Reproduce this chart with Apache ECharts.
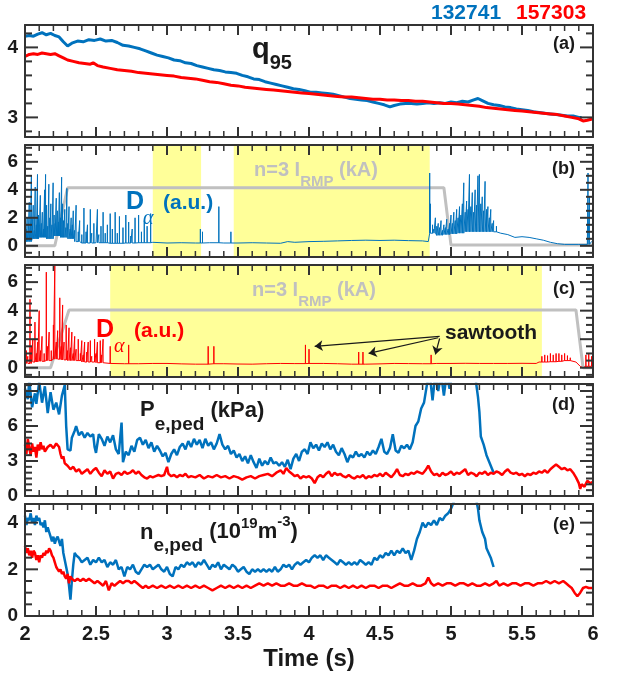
<!DOCTYPE html>
<html><head><meta charset="utf-8">
<script src="https://cdn.jsdelivr.net/npm/echarts@6/dist/echarts.min.js"></script>
<style>html,body{margin:0;padding:0;background:#fff}.layer{position:absolute;left:0;top:0;width:617px;height:677px}</style>
</head><body><div id="data" class="layer"></div><div id="frame" class="layer"></div>
<script>
// ---------------- DATA ----------------
const timeTicks = [2, 2.5, 3, 3.5, 4, 4.5, 5, 5.5, 6];
const timeMinorTicks = [2.1, 2.2, 2.3, 2.4, 2.6, 2.7, 2.8, 2.9, 3.1, 3.2, 3.3, 3.4, 3.6, 3.7, 3.8, 3.9, 4.1, 4.2, 4.3, 4.4, 4.6, 4.7, 4.8, 4.9, 5.1, 5.2, 5.3, 5.4, 5.6, 5.7, 5.8, 5.9];
const yMajorTicks = [[3, 4], [0, 2, 4, 6], [0, 2, 4, 6], [0, 3, 6, 9], [0, 2, 4]];
const yMinorTicks = [
  [2.8, 3.2, 3.4, 3.6, 3.8, 4.2],
  [-0.5, 0.5, 1, 1.5, 2.5, 3, 3.5, 4.5, 5, 5.5, 6.5, 7],
  [-0.5, 0.5, 1, 1.5, 2.5, 3, 3.5, 4.5, 5, 5.5, 6.5, 7],
  [0.5, 1, 1.5, 2, 2.5, 3.5, 4, 4.5, 5, 5.5, 6.5, 7, 7.5, 8, 8.5, 9.5],
  [0.5, 1, 1.5, 2.5, 3, 3.5, 4.5]
];
const yRanges = [[2.72, 4.32], [-0.8, 7.2], [-0.65, 7.2], [0, 9.6], [0, 4.8]];

const q95Blue = [[2.0,4.16],[2.03,4.17],[2.06,4.16],[2.09,4.19],[2.12,4.21],[2.15,4.18],[2.18,4.2],[2.21,4.17],[2.24,4.15],[2.27,4.08],[2.30,4.02],[2.33,4.06],[2.37,4.09],[2.41,4.08],[2.45,4.11],[2.49,4.1],[2.53,4.12],[2.57,4.09],[2.61,4.1],[2.65,4.07],[2.69,4.03],[2.73,4.02],[2.77,4.0],[2.81,3.98],[2.85,3.95],[2.89,3.92],[2.93,3.89],[2.97,3.87],[3.01,3.85],[3.05,3.82],[3.09,3.81],[3.13,3.78],[3.17,3.77],[3.21,3.74],[3.25,3.72],[3.29,3.7],[3.33,3.68],[3.37,3.67],[3.41,3.65],[3.45,3.64],[3.49,3.63],[3.53,3.6],[3.57,3.58],[3.61,3.55],[3.65,3.54],[3.69,3.51],[3.73,3.49],[3.77,3.47],[3.81,3.45],[3.85,3.43],[3.89,3.41],[3.93,3.4],[3.97,3.38],[4.01,3.36],[4.05,3.36],[4.09,3.35],[4.13,3.34],[4.17,3.33],[4.21,3.31],[4.25,3.29],[4.29,3.27],[4.33,3.26],[4.37,3.25],[4.41,3.24],[4.45,3.22],[4.49,3.2],[4.53,3.18],[4.57,3.15],[4.60,3.17],[4.64,3.19],[4.68,3.2],[4.72,3.2],[4.76,3.19],[4.80,3.2],[4.84,3.21],[4.88,3.2],[4.92,3.21],[4.96,3.2],[5.00,3.22],[5.04,3.21],[5.08,3.23],[5.12,3.22],[5.16,3.25],[5.19,3.27],[5.22,3.24],[5.26,3.2],[5.30,3.18],[5.34,3.17],[5.38,3.15],[5.42,3.14],[5.46,3.12],[5.50,3.11],[5.54,3.1],[5.58,3.08],[5.62,3.07],[5.66,3.06],[5.70,3.05],[5.74,3.04],[5.78,3.03],[5.82,3.02],[5.86,3.02],[5.90,3.0],[5.92,3.0]];
const q95Red = [[2.0,3.87],[2.03,3.9],[2.06,3.91],[2.09,3.9],[2.12,3.92],[2.15,3.91],[2.18,3.9],[2.21,3.91],[2.24,3.88],[2.27,3.85],[2.30,3.82],[2.34,3.8],[2.38,3.78],[2.42,3.77],[2.46,3.76],[2.48,3.78],[2.51,3.74],[2.55,3.72],[2.60,3.7],[2.65,3.68],[2.70,3.67],[2.75,3.66],[2.80,3.64],[2.85,3.63],[2.90,3.62],[2.95,3.61],[3.0,3.6],[3.05,3.59],[3.10,3.57],[3.15,3.56],[3.20,3.55],[3.25,3.53],[3.30,3.51],[3.35,3.5],[3.40,3.48],[3.45,3.46],[3.50,3.45],[3.55,3.43],[3.60,3.42],[3.65,3.41],[3.70,3.4],[3.75,3.39],[3.80,3.38],[3.85,3.37],[3.90,3.36],[3.95,3.35],[4.00,3.34],[4.05,3.33],[4.10,3.32],[4.15,3.31],[4.20,3.3],[4.25,3.29],[4.30,3.29],[4.35,3.28],[4.40,3.27],[4.45,3.26],[4.50,3.26],[4.55,3.25],[4.60,3.25],[4.65,3.24],[4.70,3.24],[4.75,3.23],[4.80,3.23],[4.85,3.22],[4.90,3.21],[4.95,3.2],[5.00,3.2],[5.05,3.19],[5.10,3.18],[5.15,3.17],[5.20,3.16],[5.25,3.14],[5.30,3.13],[5.35,3.12],[5.40,3.11],[5.45,3.1],[5.50,3.09],[5.55,3.08],[5.60,3.07],[5.65,3.06],[5.70,3.05],[5.75,3.04],[5.80,3.02],[5.85,3.0],[5.90,2.98],[5.93,2.95],[5.96,2.96],[6.0,2.98]];

const irmpB = [[2.0,0.0],[2.21,0.0],[2.3,4.15],[4.95,4.15],[5.0,0.05],[6.0,0.05]];
const irmpC = [[2.0,0.0],[2.18,0.0],[2.31,4.05],[5.88,4.05],[5.93,0.0],[6.0,0.0]];
const rmpWindowsB = [[2.9,3.24],[3.47,4.85]];
const rmpWindowsC = [[2.6,5.64]];

const dalphaBBase = [[2.0,0.3],[2.05,0.5],[2.1,0.6],[2.15,0.5],[2.2,0.7],[2.25,0.6],[2.3,0.5],[2.35,0.3],[2.4,0.2],[2.5,0.22],[2.6,0.18],[2.7,0.2],[2.8,0.22],[2.9,0.25],[3.0,0.2],[3.1,0.22],[3.2,0.2],[3.3,0.22],[3.4,0.2],[3.5,0.2],[3.6,0.22],[3.7,0.2],[3.8,0.18],[3.85,0.3],[3.9,0.25],[4.0,0.3],[4.1,0.32],[4.2,0.35],[4.3,0.38],[4.4,0.4],[4.5,0.38],[4.6,0.4],[4.7,0.37],[4.8,0.35],[4.84,0.3],[4.85,0.9],[4.9,0.75],[4.95,0.8],[5.0,0.85],[5.05,0.9],[5.1,1.0],[5.2,1.0],[5.3,1.0],[5.35,0.9],[5.4,0.8],[5.45,0.6],[5.5,0.65],[5.55,0.6],[5.6,0.5],[5.65,0.4],[5.7,0.25],[5.75,0.15],[5.8,0.1],[5.9,0.1],[5.96,0.1],[5.99,0.3],[6.0,0.2]];
const dalphaBSpikes = [[2.003,4.3],[2.01,1.2],[2.015,2.0],[2.022,1.0],[2.03,3.1],[2.037,1.4],[2.045,5.0],[2.05,1.9],[2.058,2.9],[2.065,1.1],[2.072,4.2],[2.08,1.5],[2.088,5.1],[2.095,2.2],[2.1,1.3],[2.108,3.6],[2.115,1.6],[2.122,2.4],[2.13,1.2],[2.138,4.0],[2.145,5.1],[2.152,2.9],[2.16,1.4],[2.168,4.4],[2.175,2.0],[2.182,3.0],[2.19,1.5],[2.198,4.5],[2.205,2.2],[2.212,1.6],[2.22,3.4],[2.228,2.5],[2.235,1.7],[2.242,3.8],[2.25,2.0],[2.258,4.9],[2.265,3.0],[2.272,1.8],[2.28,2.6],[2.288,1.3],[2.295,4.1],[2.302,1.6],[2.31,2.8],[2.318,1.2],[2.325,2.0],[2.333,1.5],[2.34,2.5],[2.348,1.1],[2.36,2.9],[2.375,1.0],[2.385,1.8],[2.40,0.8],[2.415,2.7],[2.43,1.0],[2.44,1.5],[2.46,2.6],[2.47,0.9],[2.485,1.6],[2.51,2.6],[2.52,0.8],[2.535,1.4],[2.55,2.4],[2.565,0.9],[2.58,1.5],[2.60,2.3],[2.615,1.2],[2.635,2.4],[2.65,0.9],[2.665,2.1],[2.69,1.3],[2.71,2.2],[2.73,1.7],[2.745,0.7],[2.755,1.2],[2.775,2.0],[2.80,2.2],[2.82,1.0],[2.84,1.8],[2.86,1.4],[2.885,2.3],[3.235,1.2],[3.25,1.0],[3.365,2.8],[3.45,1.0],[4.85,5.2],[4.855,3.0],[4.87,1.5],[4.88,1.2],[4.89,2.0],[4.9,1.4],[4.91,1.6],[4.92,1.3],[4.93,1.8],[4.94,1.1],[4.95,1.5],[4.96,1.3],[4.97,1.9],[4.98,1.2],[4.99,1.6],[5.0,2.2],[5.01,1.6],[5.02,2.4],[5.03,1.8],[5.04,2.6],[5.05,2.0],[5.06,2.8],[5.07,2.2],[5.08,3.0],[5.09,4.5],[5.1,2.4],[5.11,3.2],[5.12,2.6],[5.13,5.1],[5.14,2.8],[5.15,3.8],[5.16,2.4],[5.17,4.0],[5.18,2.9],[5.19,5.0],[5.2,5.1],[5.21,3.0],[5.22,3.5],[5.23,2.5],[5.24,4.6],[5.25,2.6],[5.26,2.8],[5.27,2.0],[5.28,2.6],[5.29,1.6],[5.30,1.8],[5.32,1.4],[5.965,5.2],[5.975,3.5]];

const dalphaCBase = [[2.0,0.3],[2.05,0.4],[2.1,0.45],[2.15,0.5],[2.2,0.6],[2.25,0.55],[2.3,0.5],[2.4,0.4],[2.5,0.35],[2.6,0.3],[2.7,0.28],[2.8,0.28],[2.9,0.3],[3.0,0.3],[3.1,0.27],[3.2,0.25],[3.3,0.28],[3.4,0.28],[3.5,0.26],[3.6,0.25],[3.7,0.28],[3.8,0.3],[3.9,0.29],[4.0,0.3],[4.1,0.3],[4.2,0.28],[4.3,0.25],[4.4,0.25],[4.5,0.27],[4.6,0.3],[4.7,0.29],[4.8,0.28],[4.9,0.3],[5.0,0.3],[5.1,0.31],[5.2,0.3],[5.3,0.3],[5.4,0.3],[5.5,0.31],[5.6,0.3],[5.62,0.4],[5.7,0.42],[5.75,0.45],[5.8,0.5],[5.85,0.55],[5.88,0.4],[5.91,0.1],[5.93,0.0],[5.95,0.1],[6.0,0.2]];
const dalphaCSpikes = [[2.01,1.2],[2.02,0.8],[2.035,4.8],[2.045,1.5],[2.055,2.0],[2.07,3.2],[2.08,1.0],[2.09,1.8],[2.10,4.0],[2.11,1.2],[2.12,2.2],[2.135,1.0],[2.15,6.7],[2.16,1.5],[2.17,2.5],[2.185,1.2],[2.2,3.0],[2.21,7.3],[2.22,1.8],[2.23,2.6],[2.245,4.9],[2.255,1.5],[2.265,4.4],[2.275,1.8],[2.29,3.0],[2.30,1.2],[2.31,2.8],[2.32,1.4],[2.33,2.5],[2.34,1.0],[2.35,2.2],[2.36,1.3],[2.375,2.0],[2.39,1.0],[2.40,1.9],[2.41,0.9],[2.42,1.8],[2.435,1.1],[2.445,1.8],[2.46,1.9],[2.47,0.8],[2.49,2.0],[2.50,1.0],[2.51,1.8],[2.53,1.9],[2.54,0.9],[2.55,2.0],[2.6,1.5],[2.73,1.6],[3.29,1.5],[3.33,1.5],[3.975,1.6],[4.0,1.3],[4.35,1.1],[4.38,1.1],[4.86,0.9],[5.64,0.8],[5.66,0.9],[5.68,0.85],[5.70,1.0],[5.72,0.9],[5.74,1.0],[5.76,1.0],[5.78,0.9],[5.80,1.0],[5.82,0.85],[5.84,0.7],[5.95,0.9],[5.97,1.0],[5.99,0.8]];
const sawtoothArrows = [[[4.92,2.2],[4.04,1.5]],[[4.91,2.1],[4.42,1.0]],[[4.92,2.05],[4.89,0.93]]];

const pedBlue = [[2.00,9.2],[2.02,8.3],[2.03,9.9],[2.05,7.6],[2.07,8.8],[2.08,7.9],[2.10,9.8],[2.12,8.0],[2.14,9.4],[2.16,7.1],[2.18,8.9],[2.20,7.4],[2.22,8.0],[2.24,7.0],[2.26,8.6],[2.28,9.5],[2.29,6.0],[2.30,4.0],[2.32,3.9],[2.33,5.0],[2.35,5.6],[2.36,6.0],[2.38,5.2],[2.40,5.5],[2.42,5.0],[2.44,5.4],[2.46,5.1],[2.48,5.3],[2.49,4.2],[2.50,3.7],[2.52,5.3],[2.54,4.9],[2.56,4.3],[2.58,5.1],[2.60,4.6],[2.62,5.2],[2.64,4.0],[2.66,3.6],[2.68,6.3],[2.69,2.9],[2.71,3.8],[2.73,3.5],[2.75,4.3],[2.77,3.8],[2.79,4.8],[2.81,5.0],[2.83,4.4],[2.85,4.8],[2.87,4.1],[2.89,4.6],[2.91,3.8],[2.93,4.3],[2.95,3.9],[2.97,3.4],[2.99,3.7],[3.01,2.9],[3.03,3.6],[3.05,4.0],[3.07,3.5],[3.09,4.2],[3.11,4.5],[3.13,4.0],[3.15,4.7],[3.17,4.2],[3.19,4.9],[3.21,4.4],[3.23,4.8],[3.25,4.1],[3.27,4.9],[3.29,4.3],[3.31,4.6],[3.33,4.0],[3.35,4.5],[3.37,5.3],[3.39,4.4],[3.41,4.0],[3.43,4.3],[3.45,3.6],[3.47,3.9],[3.49,3.3],[3.51,3.6],[3.53,3.0],[3.55,3.4],[3.57,2.8],[3.59,3.5],[3.61,2.9],[3.63,2.4],[3.65,3.2],[3.67,2.6],[3.69,3.0],[3.71,2.7],[3.73,3.3],[3.75,2.8],[3.77,2.9],[3.79,2.6],[3.81,2.9],[3.83,2.5],[3.85,3.1],[3.87,2.3],[3.89,3.2],[3.91,3.6],[3.93,3.0],[3.95,3.8],[3.97,4.0],[3.99,3.6],[4.01,4.6],[4.03,4.1],[4.05,4.4],[4.07,3.9],[4.09,4.5],[4.11,4.2],[4.13,4.6],[4.15,4.0],[4.17,4.4],[4.19,3.8],[4.21,3.5],[4.23,4.1],[4.25,3.6],[4.27,2.9],[4.29,3.5],[4.31,3.3],[4.33,3.8],[4.35,3.4],[4.37,3.6],[4.39,3.3],[4.41,3.8],[4.43,3.5],[4.45,3.9],[4.47,3.6],[4.49,4.2],[4.51,4.9],[4.53,3.8],[4.55,3.6],[4.57,4.1],[4.59,5.3],[4.61,3.9],[4.63,3.7],[4.65,4.3],[4.67,4.1],[4.69,4.4],[4.71,4.0],[4.73,4.6],[4.75,6.0],[4.77,6.4],[4.79,7.5],[4.81,8.0],[4.83,9.5],[4.85,10.5],[4.87,8.2],[4.89,10.5],[4.91,9.0],[4.93,10.5],[4.95,8.6],[4.97,10.5],[4.99,9.2],[5.01,10.5],[5.05,10.5],[5.10,10.5],[5.15,10.5],[5.17,10.5],[5.18,9.4],[5.19,8.5],[5.20,7.2],[5.21,5.1],[5.23,4.4],[5.25,3.5],[5.27,2.9],[5.29,2.3],[5.30,2.0]];
const pedRed = [[2.00,4.4],[2.01,3.6],[2.02,4.9],[2.03,4.1],[2.04,3.5],[2.05,4.5],[2.06,3.8],[2.07,4.2],[2.08,3.3],[2.09,4.4],[2.10,3.9],[2.11,4.6],[2.12,4.0],[2.13,4.3],[2.14,3.8],[2.16,4.2],[2.18,4.4],[2.20,4.1],[2.22,4.5],[2.24,4.2],[2.25,3.6],[2.26,3.2],[2.27,3.4],[2.28,2.8],[2.30,2.6],[2.32,2.3],[2.34,2.5],[2.36,2.1],[2.38,2.3],[2.40,1.9],[2.42,2.1],[2.44,2.3],[2.46,1.9],[2.48,2.2],[2.50,2.4],[2.52,2.0],[2.54,1.7],[2.56,2.2],[2.58,1.9],[2.60,2.1],[2.62,1.5],[2.64,1.9],[2.66,2.0],[2.68,1.8],[2.70,2.1],[2.72,1.9],[2.74,2.0],[2.76,2.2],[2.78,1.9],[2.80,2.1],[2.82,1.8],[2.84,1.6],[2.86,1.5],[2.88,1.7],[2.90,1.6],[2.92,1.7],[2.94,1.8],[2.96,1.7],[2.98,1.8],[3.00,2.5],[3.01,1.9],[3.03,1.7],[3.05,1.8],[3.07,1.6],[3.09,1.8],[3.11,1.7],[3.13,1.9],[3.15,1.6],[3.17,1.7],[3.20,1.6],[3.23,1.8],[3.26,1.5],[3.29,1.7],[3.32,1.6],[3.35,1.8],[3.38,1.6],[3.41,1.7],[3.44,1.5],[3.47,1.7],[3.50,1.6],[3.53,1.4],[3.56,1.6],[3.59,1.7],[3.62,1.5],[3.65,1.7],[3.68,1.8],[3.71,1.9],[3.74,1.7],[3.77,2.0],[3.80,2.2],[3.82,1.9],[3.84,2.4],[3.86,2.1],[3.88,1.9],[3.90,1.7],[3.92,1.8],[3.94,1.5],[3.96,1.7],[3.98,1.6],[4.00,1.7],[4.02,1.5],[4.04,1.1],[4.06,1.6],[4.08,1.8],[4.10,1.6],[4.12,1.9],[4.14,2.1],[4.16,1.7],[4.18,2.0],[4.20,1.8],[4.22,1.9],[4.24,1.7],[4.26,1.6],[4.28,1.8],[4.30,1.6],[4.32,1.5],[4.34,1.7],[4.36,1.6],[4.38,1.8],[4.40,1.5],[4.42,1.7],[4.44,1.6],[4.46,1.8],[4.48,1.7],[4.50,1.9],[4.52,1.7],[4.54,2.0],[4.56,1.8],[4.58,1.6],[4.60,1.9],[4.62,2.3],[4.64,1.8],[4.66,1.7],[4.68,1.9],[4.70,1.8],[4.72,2.0],[4.74,1.9],[4.76,2.1],[4.78,2.0],[4.80,1.9],[4.82,2.2],[4.84,2.6],[4.86,2.1],[4.88,1.8],[4.90,1.9],[4.92,1.7],[4.94,2.0],[4.96,1.8],[4.98,1.9],[5.00,2.1],[5.02,1.8],[5.04,2.0],[5.06,1.9],[5.08,2.1],[5.10,2.3],[5.12,1.8],[5.14,2.0],[5.16,1.9],[5.18,1.7],[5.20,2.0],[5.22,1.9],[5.24,2.1],[5.26,1.8],[5.28,2.0],[5.30,1.9],[5.32,2.1],[5.34,2.0],[5.36,1.8],[5.38,2.1],[5.40,2.3],[5.42,2.0],[5.44,1.9],[5.46,2.0],[5.48,1.8],[5.50,1.9],[5.52,1.7],[5.54,1.9],[5.56,1.8],[5.58,2.0],[5.60,1.9],[5.62,2.1],[5.64,2.0],[5.66,2.2],[5.68,2.0],[5.70,2.3],[5.72,2.5],[5.74,2.7],[5.76,2.5],[5.78,2.3],[5.80,2.4],[5.82,2.2],[5.84,2.3],[5.86,2.0],[5.88,1.6],[5.90,1.1],[5.91,0.6],[5.92,1.0],[5.94,0.8],[5.96,1.3],[5.98,1.1],[6.00,1.2]];

const neBlue = [[2.00,4.3],[2.01,3.9],[2.02,4.2],[2.03,4.1],[2.04,4.4],[2.05,4.0],[2.06,4.2],[2.07,3.9],[2.08,4.3],[2.09,4.1],[2.10,4.2],[2.11,3.9],[2.12,4.0],[2.13,3.8],[2.14,4.1],[2.15,3.6],[2.16,3.8],[2.17,3.6],[2.18,3.4],[2.19,3.2],[2.20,3.4],[2.21,3.1],[2.22,3.3],[2.23,3.4],[2.24,3.2],[2.25,3.0],[2.26,3.3],[2.27,2.7],[2.28,2.4],[2.29,2.1],[2.30,1.8],[2.31,1.3],[2.32,0.7],[2.33,1.5],[2.34,2.2],[2.35,2.7],[2.36,2.6],[2.38,2.5],[2.40,2.3],[2.42,2.4],[2.44,2.5],[2.46,2.2],[2.48,2.4],[2.50,2.3],[2.52,2.5],[2.54,2.3],[2.56,2.4],[2.58,2.1],[2.60,2.3],[2.62,2.2],[2.64,2.4],[2.66,2.0],[2.68,2.1],[2.70,1.7],[2.72,2.1],[2.74,2.0],[2.76,2.2],[2.78,1.9],[2.80,1.8],[2.82,2.0],[2.84,2.2],[2.86,2.1],[2.88,2.2],[2.90,2.0],[2.92,2.1],[2.94,2.2],[2.96,2.0],[2.98,1.9],[3.00,2.1],[3.02,1.8],[3.04,1.7],[3.06,2.1],[3.08,2.0],[3.10,2.2],[3.12,2.1],[3.14,2.3],[3.16,2.2],[3.18,2.3],[3.20,2.1],[3.22,2.3],[3.24,2.2],[3.26,2.4],[3.28,2.2],[3.30,2.0],[3.32,2.2],[3.34,2.1],[3.36,2.3],[3.38,2.0],[3.40,2.2],[3.42,2.1],[3.44,2.0],[3.46,2.2],[3.48,2.1],[3.50,1.9],[3.52,2.0],[3.54,2.1],[3.56,1.9],[3.58,1.8],[3.60,2.0],[3.62,1.9],[3.64,2.0],[3.66,1.9],[3.68,2.0],[3.70,1.9],[3.72,2.0],[3.74,1.9],[3.76,2.1],[3.78,1.9],[3.80,2.0],[3.82,2.2],[3.84,2.1],[3.86,2.2],[3.88,2.0],[3.90,2.2],[3.92,2.3],[3.94,2.2],[3.96,2.3],[3.98,2.4],[4.00,2.3],[4.02,2.5],[4.04,2.6],[4.06,2.5],[4.08,2.6],[4.10,2.4],[4.12,2.6],[4.14,2.5],[4.16,2.4],[4.18,2.3],[4.20,2.2],[4.22,2.4],[4.24,2.3],[4.26,2.2],[4.28,2.3],[4.30,2.2],[4.32,2.3],[4.34,2.2],[4.36,2.4],[4.38,2.3],[4.40,2.2],[4.42,2.3],[4.44,2.2],[4.46,2.5],[4.48,2.4],[4.50,2.6],[4.52,2.5],[4.54,2.7],[4.56,2.6],[4.58,2.8],[4.60,2.6],[4.62,2.8],[4.64,2.7],[4.66,2.9],[4.68,2.7],[4.70,2.8],[4.72,2.4],[4.74,2.8],[4.76,3.3],[4.78,3.6],[4.80,4.0],[4.82,3.8],[4.84,4.0],[4.86,3.9],[4.88,4.1],[4.90,3.9],[4.92,4.2],[4.94,4.1],[4.96,4.3],[4.98,4.4],[5.00,4.6],[5.02,4.9],[5.04,5.1],[5.06,5.3],[5.08,5.4],[5.10,5.5],[5.12,5.4],[5.14,5.3],[5.16,5.1],[5.18,4.9],[5.19,4.6],[5.20,4.1],[5.22,3.6],[5.24,3.3],[5.25,2.9],[5.26,2.9],[5.28,2.5],[5.29,2.3],[5.30,2.1]];
const neRed = [[2.00,3.0],[2.01,2.7],[2.02,2.9],[2.03,2.6],[2.04,2.8],[2.05,2.5],[2.06,2.8],[2.07,2.7],[2.08,2.4],[2.09,2.6],[2.10,2.3],[2.11,2.6],[2.12,2.5],[2.13,2.7],[2.14,2.6],[2.15,2.8],[2.16,2.7],[2.17,2.9],[2.18,2.8],[2.19,2.6],[2.20,2.5],[2.21,2.3],[2.22,2.1],[2.23,2.0],[2.24,1.9],[2.25,2.0],[2.26,1.8],[2.27,1.9],[2.28,1.7],[2.29,1.6],[2.30,1.8],[2.31,1.4],[2.32,1.7],[2.33,1.6],[2.35,1.5],[2.37,1.6],[2.39,1.5],[2.41,1.6],[2.43,1.5],[2.45,1.6],[2.47,1.5],[2.49,1.4],[2.51,1.5],[2.53,1.4],[2.55,1.3],[2.57,1.5],[2.59,1.1],[2.61,1.4],[2.63,1.3],[2.65,1.4],[2.67,1.5],[2.69,1.4],[2.71,1.5],[2.73,1.5],[2.75,1.4],[2.77,1.5],[2.79,1.4],[2.81,1.3],[2.83,1.2],[2.85,1.3],[2.87,1.2],[2.90,1.3],[2.93,1.2],[2.96,1.3],[2.99,1.2],[3.02,1.3],[3.05,1.2],[3.08,1.3],[3.11,1.2],[3.14,1.3],[3.17,1.2],[3.20,1.3],[3.23,1.2],[3.26,1.3],[3.29,1.2],[3.32,1.1],[3.35,1.2],[3.38,1.3],[3.41,1.2],[3.44,1.3],[3.47,1.2],[3.50,1.3],[3.53,1.2],[3.56,1.3],[3.59,1.2],[3.62,1.3],[3.65,1.4],[3.68,1.3],[3.71,1.4],[3.74,1.3],[3.77,1.4],[3.80,1.3],[3.83,1.3],[3.86,1.4],[3.89,1.3],[3.92,1.3],[3.95,1.4],[3.98,1.3],[4.01,1.3],[4.04,1.2],[4.07,1.3],[4.10,1.3],[4.13,1.2],[4.16,1.3],[4.19,1.3],[4.22,1.2],[4.25,1.3],[4.28,1.2],[4.31,1.3],[4.34,1.2],[4.37,1.3],[4.40,1.2],[4.43,1.3],[4.46,1.3],[4.49,1.2],[4.52,1.3],[4.55,1.3],[4.58,1.2],[4.61,1.3],[4.64,1.4],[4.67,1.3],[4.70,1.3],[4.73,1.4],[4.76,1.3],[4.79,1.3],[4.82,1.4],[4.84,1.65],[4.86,1.4],[4.88,1.3],[4.91,1.4],[4.94,1.3],[4.97,1.4],[5.00,1.4],[5.03,1.3],[5.06,1.4],[5.09,1.4],[5.12,1.3],[5.15,1.4],[5.18,1.3],[5.21,1.3],[5.24,1.4],[5.27,1.3],[5.30,1.4],[5.32,1.5],[5.34,1.3],[5.37,1.4],[5.40,1.3],[5.43,1.4],[5.46,1.4],[5.49,1.3],[5.52,1.4],[5.55,1.4],[5.58,1.3],[5.61,1.4],[5.64,1.4],[5.67,1.5],[5.70,1.4],[5.73,1.5],[5.76,1.4],[5.79,1.5],[5.81,1.4],[5.83,1.3],[5.85,1.2],[5.87,1.0],[5.89,0.85],[5.91,1.0],[5.93,1.2],[5.95,1.25],[5.97,1.2],[6.00,1.2]];

// ---------------- STYLE / LAYOUT ----------------
const BLUE = '#0072BD', RED = '#FF0000', GRAY = '#C0C0C0', YEL = '#FFFF99', INK = '#1a1a1a', FRAME = '#333';
const FONT = '"Liberation Sans", Arial, Helvetica, sans-serif';
const tops = [25, 145, 265, 384, 504], PH = 112, GL = 25, GR = 24;
const grids = () => tops.map(t => ({ left: GL, right: GR, top: t, height: PH }));

function spiky(base, spikes) {
  const ev = base.map(p => ({ t: p[0], v: p[1] })).concat(spikes.map(s => ({ t: s[0], peak: s[1] })));
  ev.sort((a, b) => a.t - b.t);
  const out = []; let lv = base[0][1];
  ev.forEach(e => {
    if (e.peak === undefined) { lv = e.v; out.push([e.t, e.v]); }
    else { out.push([e.t, lv], [e.t, e.peak], [e.t, lv]); }
  });
  return out;
}

// ---- data layer: hidden axes, series, ticks (custom series), texts ----
const dataX = tops.map((t, i) => ({ type: 'value', gridIndex: i, min: 2, max: 6, interval: 0.5, show: false }));
const dataY = tops.map((t, i) => ({ type: 'value', gridIndex: i, min: yRanges[i][0], max: yRanges[i][1], show: false }));
function line(i, data, color, width, extra) {
  return Object.assign({
    type: 'line', xAxisIndex: i, yAxisIndex: i, data: data, showSymbol: false, symbol: 'none',
    lineStyle: { color: color, width: width }, itemStyle: { color: color }, clip: true, silent: true
  }, extra || {});
}
const areaOf = w => ({ silent: true, itemStyle: { color: YEL, opacity: 1 }, label: { show: false }, data: w.map(r => [{ xAxis: r[0] }, { xAxis: r[1] }]) });

// inward ticks on all four sides of each panel, placed through the axis scales
function tickSeries(i) {
  const items = []
    .concat(timeTicks.map(v => ({ ax: 'x', v: v, len: 10, w: 2 })))
    .concat(timeMinorTicks.map(v => ({ ax: 'x', v: v, len: 6, w: 1.5 })))
    .concat(yMajorTicks[i].map(v => ({ ax: 'y', v: v, len: 13, w: 2 })))
    .concat(yMinorTicks[i].map(v => ({ ax: 'y', v: v, len: 7, w: 2 })));
  return {
    type: 'custom', xAxisIndex: i, yAxisIndex: i, silent: true, z: 20, clip: false, animation: false,
    data: items.map(it => it.ax === 'x' ? [it.v, yRanges[i][0]] : [2, it.v]),
    renderItem: function (params, api) {
      const it = items[params.dataIndex];
      const cs = params.coordSys;
      const st = { stroke: FRAME, lineWidth: it.w };
      if (it.ax === 'x') {
        const px = api.coord([it.v, yRanges[i][0]])[0];
        const yb = cs.y + cs.height, yt = cs.y;
        return { type: 'group', children: [
          { type: 'line', shape: { x1: px, y1: yb, x2: px, y2: yb - it.len }, style: st },
          { type: 'line', shape: { x1: px, y1: yt, x2: px, y2: yt + it.len }, style: st }
        ] };
      }
      const py = api.coord([2, it.v])[1];
      const xl = cs.x, xr = cs.x + cs.width;
      return { type: 'group', children: [
        { type: 'line', shape: { x1: xl, y1: py, x2: xl + it.len, y2: py }, style: st },
        { type: 'line', shape: { x1: xr, y1: py, x2: xr - it.len, y2: py }, style: st }
      ] };
    }
  };
}

const series = [
  line(0, q95Blue, BLUE, 3),
  line(0, q95Red, RED, 3),
  line(1, irmpB, GRAY, 3, { markArea: areaOf(rmpWindowsB) }),
  line(1, spiky(dalphaBBase, dalphaBSpikes), BLUE, 1),
  line(2, irmpC, GRAY, 3, { markArea: areaOf(rmpWindowsC) }),
  line(2, spiky(dalphaCBase, dalphaCSpikes), RED, 1),
  line(3, pedBlue, BLUE, 2.5),
  line(3, pedRed, RED, 2.5),
  line(4, neBlue, BLUE, 2.5),
  line(4, neRed, RED, 2.5),
  line(2, [], INK, 1, { markLine: { silent: true, symbol: ['none', 'arrow'], symbolSize: 8,
      lineStyle: { color: INK, width: 1.2, type: 'solid' }, label: { show: false },
      data: sawtoothArrows.map(a => [{ coord: a[0] }, { coord: a[1] }]) } })
].concat(tops.map((t, i) => tickSeries(i)));

const ctx = document.createElement('canvas').getContext('2d');
const texts = [];
function put(x, y, text, font, color, align) {
  texts.push({ type: 'text', x: x, y: y, z: 100, silent: true,
    style: { text: text, font: font, fill: color, align: align || 'left', verticalAlign: 'middle' } });
}
const bf = s => 'bold ' + s + 'px ' + FONT;
function chain(x, parts) {
  parts.forEach(p => {
    const f = p.f || bf(p.s);
    put(x, p.y, p.t, f, p.c, 'left');
    ctx.font = f; x += ctx.measureText(p.t).width;
  });
}
put(431, 13, '132741', bf(21), BLUE);
put(516, 13, '157303', bf(21), RED);
['(a)', '(b)', '(c)', '(d)', '(e)'].forEach((s, i) => put(575, [44, 169, 289, 405, 525][i], s, bf(18), INK, 'right'));
chain(252, [{ t: 'q', s: 29, y: 50, c: INK }, { t: '95', s: 20, y: 63, c: INK }]);
chain(254, [{ t: 'n=3 I', s: 20, y: 170, c: GRAY }, { t: 'RMP', s: 15, y: 182, c: GRAY }, { t: ' (kA)', s: 20, y: 170, c: GRAY }]);
chain(252, [{ t: 'n=3 I', s: 20, y: 290, c: GRAY }, { t: 'RMP', s: 15, y: 302, c: GRAY }, { t: ' (kA)', s: 20, y: 290, c: GRAY }]);
const serif = 'italic 20px "Liberation Serif", "DejaVu Serif", serif';
put(126, 202, 'D', bf(25), BLUE);
put(143, 219, 'α', serif, BLUE);
put(163, 203, '(a.u.)', bf(21), BLUE);
put(96, 330, 'D', bf(25), RED);
put(114, 347, 'α', serif, RED);
put(134, 331, '(a.u.)', bf(21), RED);
put(445, 333, 'sawtooth', bf(21), INK);
chain(140, [{ t: 'P', s: 22, y: 410, c: INK }, { t: 'e,ped', s: 19, y: 425, c: INK }, { t: ' (kPa)', s: 22, y: 411, c: INK }]);
chain(140, [{ t: 'n', s: 22, y: 533, c: INK }, { t: 'e,ped', s: 19, y: 546, c: INK }, { t: ' (10', s: 22, y: 532, c: INK },
  { t: '19', s: 15, y: 524, c: INK }, { t: 'm', s: 22, y: 532, c: INK }, { t: '-3', s: 15, y: 522, c: INK }, { t: ')', s: 22, y: 532, c: INK }]);
put(309, 659, 'Time (s)', bf(24), INK, 'center');

const dataChart = echarts.init(document.getElementById('data'), null, { width: 617, height: 677 });
dataChart.setOption({ animation: false, grid: grids(), xAxis: dataX, yAxis: dataY, series: series });
dataChart.setOption({ graphic: { elements: texts } });

// ---- frame layer: box lines and tick labels ----
const xAxes = [], yAxes = [];
tops.forEach((t, i) => {
  ['bottom', 'top'].forEach(pos => {
    xAxes.push({
      type: 'value', gridIndex: i, min: 2, max: 6, interval: 0.5, position: pos,
      axisLine: { show: true, onZero: false, lineStyle: { color: FRAME, width: 2 } },
      axisTick: { show: false }, minorTick: { show: false },
      splitLine: { show: false }, minorSplitLine: { show: false },
      axisLabel: { show: i === 4 && pos === 'bottom', fontSize: 20, fontWeight: 'bold', color: INK, fontFamily: FONT, margin: 8, showMinLabel: true, showMaxLabel: true, hideOverlap: false }
    });
  });
  ['left', 'right'].forEach(pos => {
    yAxes.push({
      type: 'value', gridIndex: i, min: yRanges[i][0], max: yRanges[i][1], position: pos,
      axisLine: { show: true, onZero: false, lineStyle: { color: FRAME, width: 2 } },
      axisTick: { show: false },
      axisLabel: { show: pos === 'left', customValues: yMajorTicks[i], fontSize: 19, fontWeight: 'bold', color: INK, fontFamily: FONT, margin: 7, hideOverlap: false },
      splitLine: { show: false }
    });
  });
});
const frameChart = echarts.init(document.getElementById('frame'), null, { width: 617, height: 677 });
frameChart.setOption({ animation: false, backgroundColor: 'transparent', grid: grids(), xAxis: xAxes, yAxis: yAxes,
  series: tops.map((t, i) => ({ type: 'line', xAxisIndex: 2 * i, yAxisIndex: 2 * i, data: [], silent: true })) });
</script></body></html>
